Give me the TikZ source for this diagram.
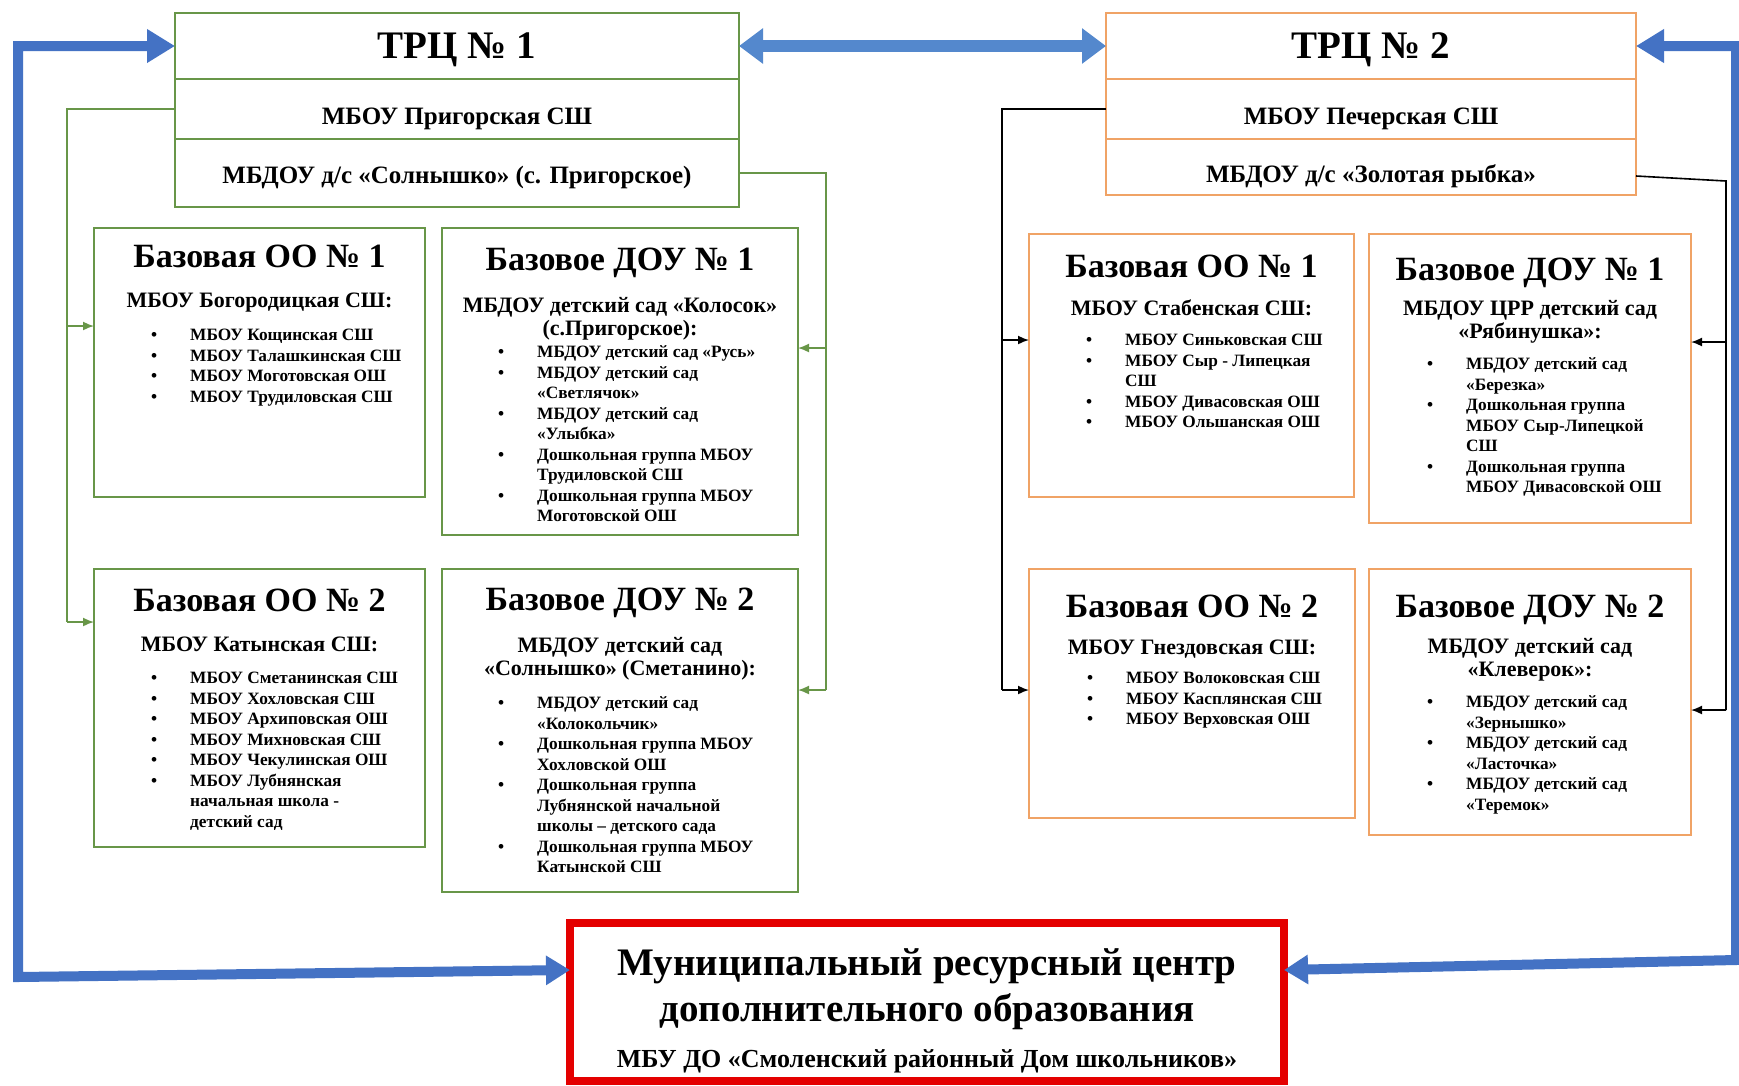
\documentclass[tikz,border=0pt]{standalone}
\usepackage{fontspec}
\setmainfont{Liberation Serif}
\usetikzlibrary{arrows.meta}
\definecolor{gr}{RGB}{104,150,72}
\definecolor{orng}{RGB}{240,163,102}
\definecolor{blo}{RGB}{68,114,196}
\definecolor{blm}{RGB}{84,136,205}
\definecolor{rd}{RGB}{228,0,0}
\newcommand\bu{\textbullet}
\newcommand\blst[1]{\begin{tabular}[t]{@{}p{39pt}@{}l@{}}#1\end{tabular}}
\newcommand\ctab[1]{\begin{tabular}[t]{@{}c@{}}#1\end{tabular}}
\begin{document}
\begin{tikzpicture}[x=1pt,y=-1pt,
  gbox/.style={draw=gr, line width=2.6pt, outer sep=0pt, inner sep=0pt, anchor=north west},
  obox/.style={draw=orng, line width=2.6pt, outer sep=0pt, inner sep=0pt, anchor=north west},
  trcT/.style={font=\fontsize{39}{47}\selectfont\bfseries, inner sep=0pt, text height=26pt, text depth=0pt},
  trcR/.style={font=\fontsize{25}{30}\selectfont\bfseries, inner sep=0pt, text height=16.5pt, text depth=0pt},
  bT/.style={font=\fontsize{34}{40}\selectfont\bfseries, inner sep=0pt, text height=22.5pt, text depth=0pt},
  bS/.style={font=\fontsize{22}{23}\selectfont\bfseries, inner sep=0pt, anchor=base},
  bL/.style={font=\fontsize{17.3}{20.5}\selectfont\bfseries, inner sep=0pt, anchor=base west},
  mT/.style={font=\fontsize{39}{46}\selectfont\bfseries, inner sep=0pt, anchor=base},
  mS/.style={font=\fontsize{26}{30}\selectfont\bfseries, inner sep=0pt, anchor=base},
  gline/.style={draw=gr, line width=1.6pt},
  kline/.style={draw=black, line width=1.6pt},
  tip/.style={-{Latex[length=11pt,width=9pt]}},
  bigarr/.style={draw=blo, line width=10pt, line join=miter},
  midarr/.style={draw=blm, line width=12pt}
]
\useasboundingbox (0,0) rectangle (1739,1085);
\fill[white] (0,0) rectangle (1739,1085);

% ---------- TRC 1 ----------
\node[gbox, minimum width=564pt, minimum height=66pt] (trc1t) at (175,13) {};
\node[gbox, minimum width=564pt, minimum height=60pt] (trc1a) at (175,79) {};
\node[gbox, minimum width=564pt, minimum height=68pt] (trc1b) at (175,139) {};
\node[trcT] (trc1tt) at (457,45) {ТРЦ № 1};
\node[trcR] (trc1at) at (457,116) {МБОУ Пригорская СШ};
\node[trcR] (trc1bt) at (457,175) {МБДОУ д/с «Солнышко» (с. Пригорское)};

% ---------- TRC 2 ----------
\node[obox, minimum width=530pt, minimum height=66pt] (trc2t) at (1106,13) {};
\node[obox, minimum width=530pt, minimum height=60pt] (trc2a) at (1106,79) {};
\node[obox, minimum width=530pt, minimum height=56pt] (trc2b) at (1106,139) {};
\node[trcT] (trc2tt) at (1371,45) {ТРЦ № 2};
\node[trcR] (trc2at) at (1371,116) {МБОУ Печерская СШ};
\node[trcR] (trc2bt) at (1371,174) {МБДОУ д/с «Золотая рыбка»};

% ---------- left boxes ----------
\node[gbox, minimum width=331pt, minimum height=269pt] (oo1l) at (94,228) {};
\node[bT] (oo1lt) at (259.5,256) {Базовая ОО № 1};
\node[bS] (oo1ls) at (259.5,307.5) {\ctab{МБОУ Богородицкая СШ:}};
\node[bL] (oo1ll) at (151,340.5) {\blst{
\bu & МБОУ Кощинская СШ\\
\bu & МБОУ Талашкинская СШ\\
\bu & МБОУ Моготовская ОШ\\
\bu & МБОУ Трудиловская СШ}};

\node[gbox, minimum width=356pt, minimum height=307pt] (doo1l) at (442,228) {};
\node[bT] (doo1lt) at (620,259) {Базовое ДОУ № 1};
\node[bS] (doo1ls) at (620,312.5) {\ctab{МБДОУ детский сад «Колосок»\\(с.Пригорское):}};
\node[bL] (doo1ll) at (498,357.5) {\blst{
\bu & МБДОУ детский сад «Русь»\\
\bu & МБДОУ детский сад\\
    & «Светлячок»\\
\bu & МБДОУ детский сад\\
    & «Улыбка»\\
\bu & Дошкольная группа МБОУ\\
    & Трудиловской СШ\\
\bu & Дошкольная группа МБОУ\\
    & Моготовской ОШ}};

\node[gbox, minimum width=331pt, minimum height=278pt] (oo2l) at (94,569) {};
\node[bT] (oo2lt) at (259.5,600) {Базовая ОО № 2};
\node[bS] (oo2ls) at (259.5,651.5) {\ctab{МБОУ Катынская СШ:}};
\node[bL] (oo2ll) at (151,683.5) {\blst{
\bu & МБОУ Сметанинская СШ\\
\bu & МБОУ Хохловская СШ\\
\bu & МБОУ Архиповская ОШ\\
\bu & МБОУ Михновская СШ\\
\bu & МБОУ Чекулинская ОШ\\
\bu & МБОУ Лубнянская\\
    & начальная школа -\\
    & детский сад}};

\node[gbox, minimum width=356pt, minimum height=323pt] (doo2l) at (442,569) {};
\node[bT] (doo2lt) at (620,599) {Базовое ДОУ № 2};
\node[bS] (doo2ls) at (620,652.5) {\ctab{МБДОУ детский сад\\«Солнышко» (Сметанино):}};
\node[bL] (doo2ll) at (498,708.5) {\blst{
\bu & МБДОУ детский сад\\
    & «Колокольчик»\\
\bu & Дошкольная группа МБОУ\\
    & Хохловской ОШ\\
\bu & Дошкольная группа\\
    & Лубнянской начальной\\
    & школы – детского сада\\
\bu & Дошкольная группа МБОУ\\
    & Катынской СШ}};

% ---------- right boxes ----------
\node[obox, minimum width=325pt, minimum height=263pt] (oo1r) at (1029,234) {};
\node[bT] (oo1rt) at (1191.5,266) {Базовая ОО № 1};
\node[bS] (oo1rs) at (1191.5,315.5) {\ctab{МБОУ Стабенская СШ:}};
\node[bL] (oo1rl) at (1086,345.5) {\blst{
\bu & МБОУ Синьковская СШ\\
\bu & МБОУ Сыр - Липецкая\\
    & СШ\\
\bu & МБОУ Дивасовская ОШ\\
\bu & МБОУ Ольшанская ОШ}};

\node[obox, minimum width=322pt, minimum height=289pt] (doo1r) at (1369,234) {};
\node[bT] (doo1rt) at (1530,269) {Базовое ДОУ № 1};
\node[bS] (doo1rs) at (1530,315.5) {\ctab{МБДОУ ЦРР детский сад\\«Рябинушка»:}};
\node[bL] (doo1rl) at (1427,369.5) {\blst{
\bu & МБДОУ детский сад\\
    & «Березка»\\
\bu & Дошкольная группа\\
    & МБОУ Сыр-Липецкой\\
    & СШ\\
\bu & Дошкольная группа\\
    & МБОУ Дивасовской ОШ}};

\node[obox, minimum width=326pt, minimum height=249pt] (oo2r) at (1029,569) {};
\node[bT] (oo2rt) at (1192,606) {Базовая ОО № 2};
\node[bS] (oo2rs) at (1192,654.5) {\ctab{МБОУ Гнездовская СШ:}};
\node[bL] (oo2rl) at (1087,683.5) {\blst{
\bu & МБОУ Волоковская СШ\\
\bu & МБОУ Касплянская СШ\\
\bu & МБОУ Верховская ОШ}};

\node[obox, minimum width=322pt, minimum height=266pt] (doo2r) at (1369,569) {};
\node[bT] (doo2rt) at (1530,606) {Базовое ДОУ № 2};
\node[bS] (doo2rs) at (1530,653.5) {\ctab{МБДОУ детский сад\\«Клеверок»:}};
\node[bL] (doo2rl) at (1427,707.5) {\blst{
\bu & МБДОУ детский сад\\
    & «Зернышко»\\
\bu & МБДОУ детский сад\\
    & «Ласточка»\\
\bu & МБДОУ детский сад\\
    & «Теремок»}};

% ---------- municipal centre ----------
\node[draw=rd, line width=8pt, outer sep=0pt, inner sep=0pt, minimum width=714pt, minimum height=158pt] (mrc) at (927,1002) {};
\node[mT] (mrct) at (927,975) {\ctab{Муниципальный ресурсный центр\\дополнительного образования}};
\node[mS] (mrcs) at (927,1067) {МБУ ДО «Смоленский районный Дом школьников»};

% ---------- thin connectors ----------
\coordinate (gA) at (67,326);
\coordinate (gB) at (67,622);
\draw[gline] (trc1a.west) -| (gB);
\draw[gline,tip] (gA) -- (oo1l.west |- gA);
\draw[gline,tip] (gB) -- (oo2l.west |- gB);

\coordinate (gC) at (826,348);
\coordinate (gD) at (826,690);
\draw[gline] (trc1b.east) -| (gD);
\draw[gline,tip] (gC) -- (doo1l.east |- gC);
\draw[gline,tip] (gD) -- (doo2l.east |- gD);

\coordinate (kA) at (1002,340);
\coordinate (kB) at (1002,690);
\draw[kline] (trc2a.west) -| (kB);
\draw[kline,tip] (kA) -- (oo1r.west |- kA);
\draw[kline,tip] (kB) -- (oo2r.west |- kB);

\coordinate (kE) at (1726,181);
\coordinate (kF) at (1726,342);
\coordinate (kG) at (1726,710);
\draw[kline] ([yshift=-9pt]trc2b.east) -- (kE) -- (kG);
\draw[kline,tip] (kF) -- (doo1r.east |- kF);
\draw[kline,tip] (kG) -- (doo2r.east |- kG);

% ---------- blue arrows ----------
\coordinate (LT) at (18,46);
\coordinate (LB) at (18,977);
\coordinate (RT) at (1736,46);
\coordinate (RB) at (1736,960);
\draw[bigarr, {Triangle[length=28pt,width=32pt]}-{Triangle[length=24pt,width=28pt]}]
  (trc1t.west) -- (LT) -- (LB) -- ([yshift=32pt]mrc.west);
\draw[bigarr, {Triangle[length=28pt,width=32pt]}-{Triangle[length=24pt,width=28pt]}]
  (trc2t.east) -- (RT) -- (RB) -- ([yshift=32pt]mrc.east);
\draw[midarr, {Triangle[length=24pt,width=34pt]}-{Triangle[length=24pt,width=34pt]}]
  (trc1t.east) -- (trc2t.west);
\end{tikzpicture}
\end{document}
